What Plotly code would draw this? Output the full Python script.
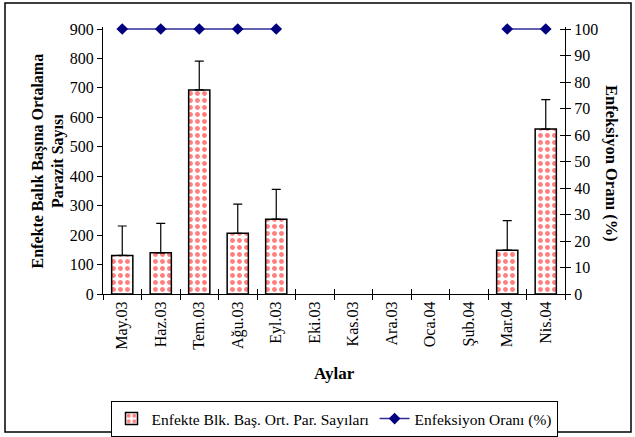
import plotly.graph_objects as go

months = ["May.03", "Haz.03", "Tem.03", "Ağu.03", "Eyl.03", "Eki.03", "Kas.03",
          "Ara.03", "Oca.04", "Şub.04", "Mar.04", "Nis.04"]
parasite_mean = [131, 140, 693, 206, 254, None, None, None, None, None, 149, 560]
parasite_err = [100, 100, 98, 99, 101, None, None, None, None, None, 100, 100]
infection_rate = [100, 100, 100, 100, 100, None, None, None, None, None, 100, 100]

FONT = "Liberation Serif, Times New Roman, serif"
W, H = 635, 437
# plot area: value 0 at y=294, 900/100 at y=29; 2px headroom so the top line is not clipped
HEAD = 2
L, R, T, B = 103, 70, 29 - HEAD, 143
pw, ph = W - L - R, H - T - B
scale = ph / (ph - HEAD)
xr = [-0.5, len(months) - 0.5]

def px_x(p):
    return (p - L) / pw

def px_y(p):
    return (T + ph - p) / ph

fig = go.Figure()
fig.add_trace(go.Bar(
    x=months, y=parasite_mean, name="Enfekte Blk. Baş. Ort. Par. Sayıları",
    width=0.55,
    marker=dict(color="white", line=dict(color="black", width=1.5),
                pattern=dict(shape=".", fgcolor="#ff0000", bgcolor="white",
                             size=7, solidity=0.4, fillmode="overlay")),
    error_y=dict(type="data", array=parasite_err, arrayminus=[0] * 12,
                 symmetric=False, color="black", thickness=1.2, width=4.5),
    yaxis="y", xaxis="x",
))
fig.add_trace(go.Scatter(
    x=months, y=infection_rate, name="Enfeksiyon Oranı (%)",
    mode="lines+markers", connectgaps=False, cliponaxis=False,
    line=dict(color="#2e2e96", width=1.5),
    marker=dict(symbol="diamond", size=9, color="#000080"),
    yaxis="y2", xaxis="x",
))
# helper (invisible) to carry the inner tick marks axes
fig.add_trace(go.Scatter(
    x=months, y=[0] * 12, mode="markers", marker=dict(opacity=0),
    showlegend=False, hoverinfo="skip", xaxis="x2", yaxis="y3",
))

axis_common = dict(showline=True, linecolor="black", linewidth=1.2,
                   tickcolor="black", ticklen=5, tickwidth=1.2,
                   showgrid=False, zeroline=False, automargin=False,
                   tickfont=dict(family=FONT, size=16, color="black"))

fig.update_layout(
    width=W, height=H,
    margin=dict(l=L, r=R, t=T, b=B, autoexpand=False),
    paper_bgcolor="white", plot_bgcolor="white",
    xaxis=dict(type="category", categoryorder="array", categoryarray=months,
               range=xr, tickson="boundaries", ticks="outside", tickangle=-90,
               **axis_common),
    xaxis2=dict(type="category", categoryorder="array", categoryarray=months,
                range=xr, overlaying="x", tickson="boundaries", ticks="inside",
                showticklabels=False, showline=False, showgrid=False,
                zeroline=False, tickcolor="black", ticklen=5, tickwidth=1.2,
                automargin=False),
    yaxis=dict(range=[0, 900 * scale], tick0=0, dtick=100, ticks="outside",
               ticklabelstandoff=0, **axis_common),
    yaxis2=dict(range=[0, 100 * scale], tick0=0, dtick=10, ticks="outside",
                overlaying="y", side="right", **axis_common),
    yaxis3=dict(range=[0, 100 * scale], tick0=0, dtick=10, ticks="inside",
                overlaying="y", side="right", showticklabels=False,
                showline=False, showgrid=False, zeroline=False,
                tickcolor="black", ticklen=5, tickwidth=1.2, automargin=False),
    legend=dict(orientation="h", x=0.5, xanchor="center",
                y=px_y(401), yanchor="top",
                bordercolor="black", borderwidth=1,
                font=dict(family=FONT, size=15.5, color="black"),
                itemwidth=30, tracegroupgap=0),
    showlegend=True,
    annotations=[
        dict(text="<b>Enfekte Balık Başına Ortalama</b><br><b>Parazit Sayısı</b>",
             x=px_x(48), y=px_y(161.5), xref="paper", yref="paper",
             textangle=-90, showarrow=False, xanchor="center", yanchor="middle",
             font=dict(family=FONT, size=16, color="black")),
        dict(text="<b>Enfeksiyon Oranı (%)</b>",
             x=px_x(612), y=px_y(163), xref="paper", yref="paper",
             textangle=90, showarrow=False, xanchor="center", yanchor="middle",
             font=dict(family=FONT, size=16.5, color="black")),
        dict(text="<b>Aylar</b>", x=0.5, y=px_y(373), xref="paper", yref="paper",
             showarrow=False, xanchor="center", yanchor="middle",
             font=dict(family=FONT, size=17, color="black")),
    ],
    shapes=[
        dict(type="rect", xref="paper", yref="paper",
             x0=px_x(5), x1=px_x(631), y0=px_y(432), y1=px_y(3),
             line=dict(color="black", width=1.5), fillcolor="rgba(0,0,0,0)",
             layer="below"),
    ],
)

fig.write_html("out.html", config={"displayModeBar": False},
               post_script="document.body.style.margin='0';"
                           "document.body.style.overflow='hidden';")
